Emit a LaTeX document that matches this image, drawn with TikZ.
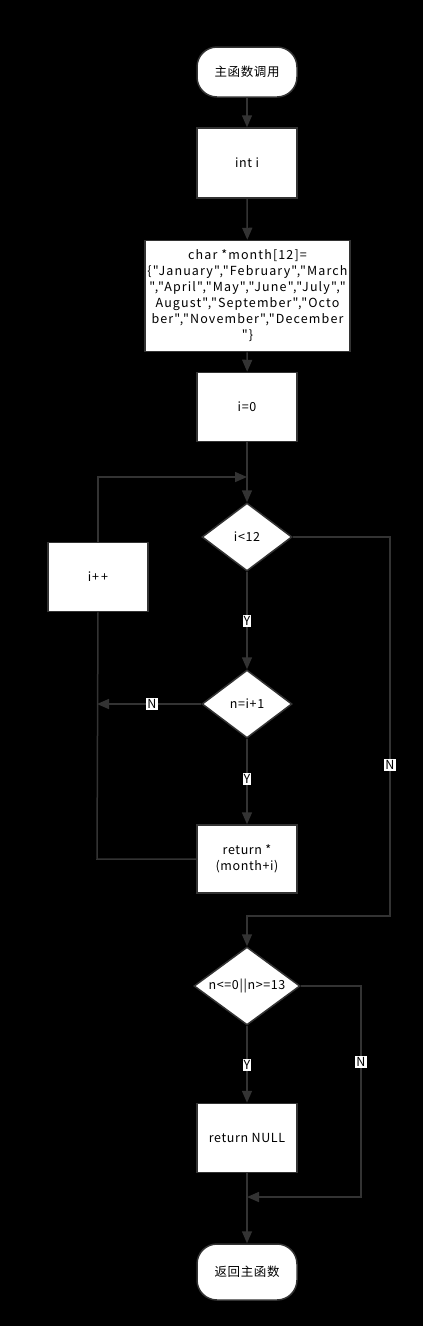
\documentclass[tikz,border=0pt]{standalone}
\usepackage{fontspec}
\setmainfont{Noto Sans CJK SC}[Ligatures=TeXOff,LetterSpace=5]
\newfontfamily\widefont{Noto Sans CJK SC}[Ligatures=TeXOff,LetterSpace=9]
\usetikzlibrary{shapes.geometric,arrows.meta}
\definecolor{ln}{HTML}{333333}
\tikzset{
  box/.style={draw=ln, line width=1.5pt, fill=white, minimum width=100pt, inner sep=2pt, align=center, font=\fontsize{12.5}{16}\selectfont},
  term/.style={box, rounded corners=20pt},
  dia/.style={draw=ln, line width=1.5pt, fill=white, diamond, inner sep=0pt},
  txt/.style={font=\fontsize{12.5}{16}\selectfont, inner sep=0pt},
  lbl/.style={fill=white, inner sep=1pt, font=\fontsize{12.5}{14}\selectfont},
  con/.style={draw=ln, line width=1.5pt},
  arr/.style={con, -{Triangle[length=12pt,width=10pt]}},
}
\begin{document}
\begin{tikzpicture}[x=1pt,y=-1pt]
\fill[black] (0,0) rectangle (423,1326);
\useasboundingbox (0,0) rectangle (423,1326);
\node[term, minimum height=50pt] (s) at (247,72) {主函数调用};
\node[box, minimum height=70pt] (b1) at (247,163) {int i};
\node[box, minimum width=205pt, minimum height=111pt, inner sep=0pt, font=\widefont\fontsize{12.5}{16}\selectfont] (b2) at (247.5,296) {char *month[12]=\\\{"January","February","March\\","April","May","June","July","\\August","September","Octo\\ber","November","December\\"\}};
\node[box, minimum height=69pt] (b3) at (247,407) {i=0};
\coordinate (m1) at (247,477);
\node[dia, minimum width=90pt, minimum height=68pt] (d1) at (247,537) {};
\node[txt] at (d1) {i<12};
\node[box, minimum height=69pt] (pp) at (98,577) {i+\,+};
\node[dia, minimum width=90pt, minimum height=68pt] (d2) at (247,704) {};
\node[txt] at (d2) {n=i+1};
\coordinate (m2) at (97,704);
\node[box, minimum height=68pt] (b4) at (247,859) {return *\\(month+i)};
\coordinate (c1) at (97,859);
\coordinate (j1) at (390,916);
\coordinate (j2) at (247,916);
\node[dia, minimum width=106pt, minimum height=78pt] (d3) at (247,986) {};
\node[txt] at (d3) {n<=0||n>=13};
\node[box, minimum height=69pt] (b5) at (247,1138) {return NULL};
\coordinate (k1) at (361,1197);
\coordinate (k2) at (247,1197);
\node[term, minimum height=56pt] (e) at (247,1272) {返回主函数};
% connectors
\draw[arr] (s) -- (b1);
\draw[arr] (b1) -- (b2);
\draw[arr] (b2) -- (b3);
\draw[arr] (b3) -- (d1);
\draw[arr] (pp.north) |- (m1);
\draw[arr] (d1) -- (d2);
\draw[arr] (d2.west) -- (m2);
\draw[arr] (d2) -- (b4);
\draw[con] (b4.west) -- (c1) -- (pp.south);
\draw[arr] (d1.east) -| (j1) -- (j2) -- (d3.north);
\draw[arr] (d3) -- (b5);
\draw[arr] (d3.east) -| (k1) -- (k2);
\draw[arr] (b5) -- (e);
% labels
\node[lbl] at (247,621) {Y};
\node[lbl] at (152,704) {N};
\node[lbl] at (247,779) {Y};
\node[lbl] at (390,765) {N};
\node[lbl] at (247,1065) {Y};
\node[lbl] at (361,1062) {N};
\end{tikzpicture}
\end{document}
